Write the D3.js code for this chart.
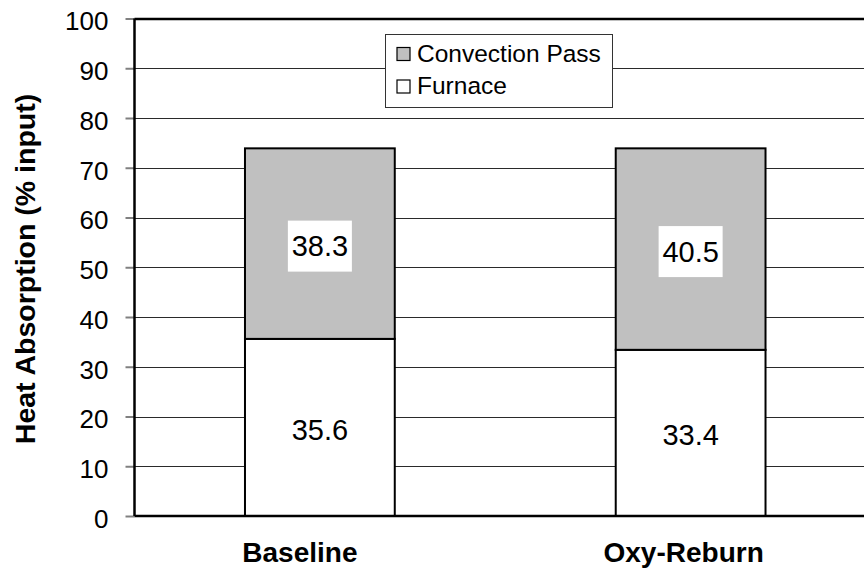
<!DOCTYPE html>
<html>
<head>
<meta charset="utf-8">
<script src="https://cdn.jsdelivr.net/npm/d3@7"></script>
<style>
  html, body { margin: 0; padding: 0; background: #fff; }
  svg { display: block; font-family: Arial, "Liberation Sans", Helvetica, sans-serif; }
</style>
</head>
<body>
<svg id="chart" width="864" height="569"></svg>
<script>
// Heat absorption split by section for each case
const categories = ["Baseline", "Oxy-Reburn"];
const furnace = [35.6, 33.4];
const convectionPass = [38.3, 40.5];
const seriesNames = ["Furnace", "Convection Pass"];
const yTicks = [0, 10, 20, 30, 40, 50, 60, 70, 80, 90, 100];

const svg = d3.select("#chart");
const W = 864, H = 569;
const plotLeft = 134.5, plotTop = 18.5, plotBottom = 516, rightEdge = 876;

const x = d3.scaleBand()
  .domain(categories)
  .range([plotLeft, rightEdge])
  .paddingInner(0.596)
  .paddingOuter(0.298);

const y = d3.scaleLinear().domain([0, 100]).range([plotBottom, plotTop]);

// gridlines
svg.append("g")
  .selectAll("line")
  .data(yTicks.filter(t => t > 0 && t < 100))
  .join("line")
  .attr("x1", plotLeft).attr("x2", W)
  .attr("y1", d => Math.round(y(d)) + 0.5).attr("y2", d => Math.round(y(d)) + 0.5)
  .attr("stroke", "#2a2a2a").attr("stroke-width", 1);

// stacked data
const rows = categories.map((c, i) => ({ cat: c, Furnace: furnace[i], "Convection Pass": convectionPass[i] }));
const stack = d3.stack().keys(seriesNames)(rows);
const fills = { "Furnace": "#ffffff", "Convection Pass": "#c0c0c0" };

const layers = svg.append("g").selectAll("g")
  .data(stack)
  .join("g")
  .attr("fill", d => fills[d.key]);

layers.selectAll("rect")
  .data(d => d)
  .join("rect")
  .attr("x", d => x(d.data.cat))
  .attr("width", x.bandwidth())
  .attr("y", d => y(d[1]))
  .attr("height", d => y(d[0]) - y(d[1]))
  .attr("stroke", "#000")
  .attr("stroke-width", 2);

// value labels with white boxes
stack.forEach(layer => {
  layer.forEach(d => {
    const v = d[1] - d[0];
    const cx = x(d.data.cat) + x.bandwidth() / 2;
    const cy = y((d[0] + d[1]) / 2) + 2.5;
    svg.append("rect")
      .attr("x", cx - 32).attr("y", cy - 25.5)
      .attr("width", 64).attr("height", 51)
      .attr("fill", "#fff");
    svg.append("text")
      .attr("x", cx).attr("y", cy)
      .attr("text-anchor", "middle")
      .attr("dominant-baseline", "central")
      .attr("font-size", 29)
      .attr("fill", "#000")
      .text(v.toFixed(1));
  });
});

// y axis
const yAxis = svg.append("g")
  .attr("transform", `translate(${plotLeft},0)`)
  .call(d3.axisLeft(y).tickValues(yTicks).tickSize(9).tickPadding(26).tickFormat(d3.format("d")));
yAxis.select(".domain").remove();
yAxis.selectAll(".tick line").attr("stroke", "#808080").attr("stroke-width", 2);
yAxis.selectAll(".tick text")
  .attr("x", -26)
  .attr("dy", "0.44em")
  .attr("font-size", 26)
  .attr("font-family", "Arial, 'Liberation Sans', sans-serif")
  .attr("fill", "#000");

// axis frame lines
svg.append("line").attr("x1", plotLeft).attr("x2", plotLeft).attr("y1", plotTop).attr("y2", plotBottom)
  .attr("stroke", "#000").attr("stroke-width", 2.5);
svg.append("line").attr("x1", plotLeft).attr("x2", W).attr("y1", plotBottom).attr("y2", plotBottom)
  .attr("stroke", "#000").attr("stroke-width", 2.5);
svg.append("line").attr("x1", plotLeft).attr("x2", W).attr("y1", plotTop + 0.5).attr("y2", plotTop + 0.5)
  .attr("stroke", "#000").attr("stroke-width", 2.5);

// x axis labels (category text sits a little left of each bar centre)
const labelNudge = { "Baseline": -20, "Oxy-Reburn": -7 };
const xAxis = svg.append("g")
  .attr("transform", `translate(0,${plotBottom})`)
  .call(d3.axisBottom(x).tickSize(0).tickPadding(26));
xAxis.select(".domain").remove();
xAxis.selectAll(".tick text")
  .attr("dx", d => labelNudge[d])
  .attr("font-size", 28)
  .attr("font-weight", "bold")
  .attr("font-family", "Arial, 'Liberation Sans', sans-serif")
  .attr("fill", "#000");

// y axis title
svg.append("text")
  .attr("transform", `translate(35,269) rotate(-90)`)
  .attr("text-anchor", "middle")
  .attr("font-size", 28.5)
  .attr("font-weight", "bold")
  .text("Heat Absorption (% input)");

// legend
const lg = svg.append("g").attr("transform", "translate(385,34)");
lg.append("rect").attr("x", 0.5).attr("y", 0.5).attr("width", 227).attr("height", 73)
  .attr("fill", "#fff").attr("stroke", "#333").attr("stroke-width", 1);
const legendItems = ["Convection Pass", "Furnace"];
legendItems.forEach((name, i) => {
  const ry = 13.5 + i * 32.5;
  lg.append("rect").attr("x", 12).attr("y", ry).attr("width", 13).attr("height", 13)
    .attr("fill", fills[name]).attr("stroke", "#000").attr("stroke-width", 1.2);
  lg.append("text").attr("x", 32).attr("y", ry + 14)
    .attr("font-size", 24.5).attr("fill", "#000").text(name);
});
</script>
</body>
</html>
